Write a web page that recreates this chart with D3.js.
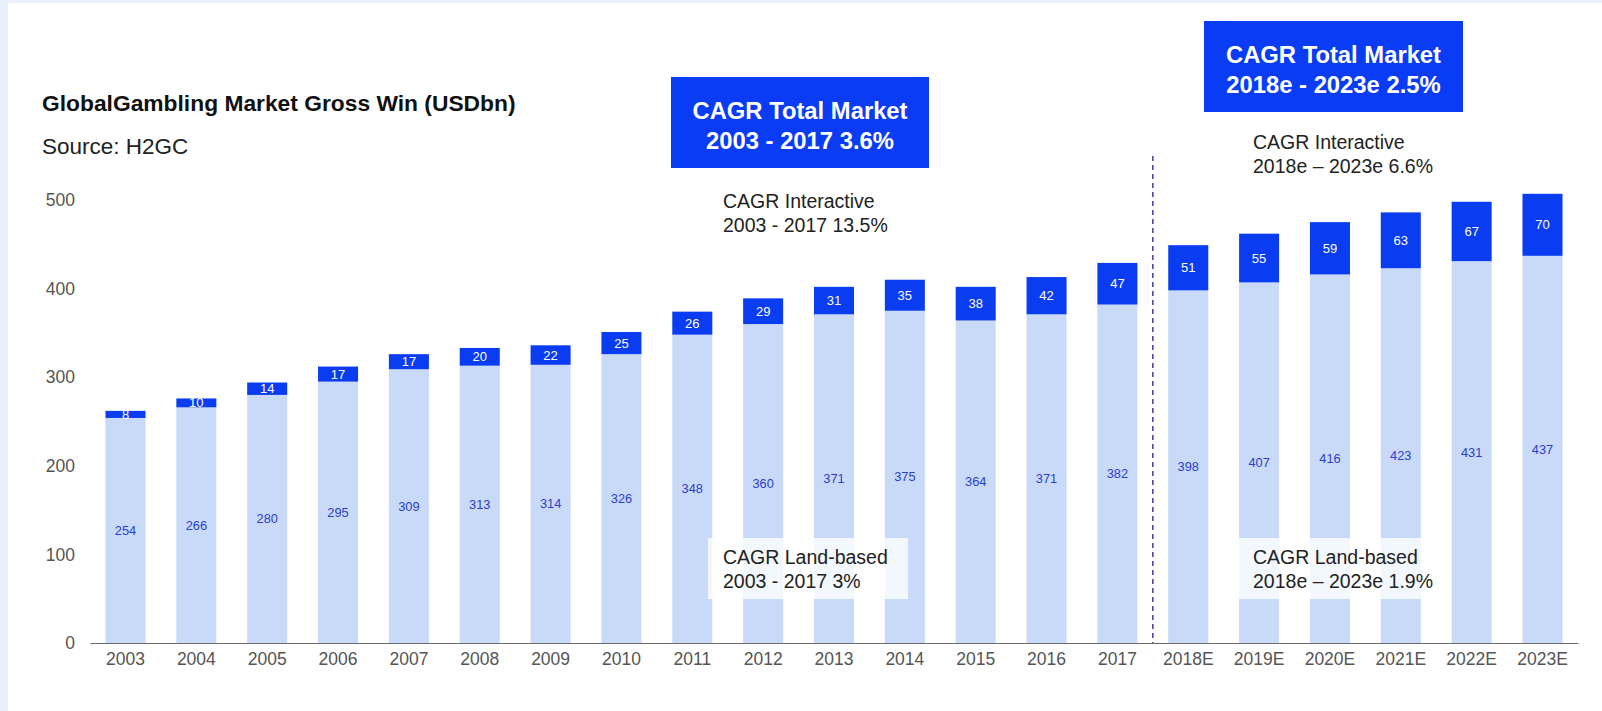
<!DOCTYPE html>
<html>
<head>
<meta charset="utf-8">
<script src="https://cdn.jsdelivr.net/npm/d3@7"></script>
<style>
  html, body { margin: 0; padding: 0; background: #e9effb; }
  svg { display: block; font-family: "Liberation Sans", Arial, sans-serif; }
</style>
</head>
<body>
<svg id="chart" width="1602" height="711"></svg>
<script>
// Global gambling market gross win, USD bn
const years = ["2003","2004","2005","2006","2007","2008","2009","2010","2011","2012",
               "2013","2014","2015","2016","2017","2018E","2019E","2020E","2021E","2022E","2023E"];
const landBased = [254,266,280,295,309,313,314,326,348,360,371,375,364,371,382,398,407,416,423,431,437];
const interactive = [8,10,14,17,17,20,22,25,26,29,31,35,38,42,47,51,55,59,63,67,70];
const yTicks = [0,100,200,300,400,500];

const title = "GlobalGambling Market Gross Win (USDbn)";
const source = "Source: H2GC";
const totalCagr = [
  ["CAGR Total Market", "2003 - 2017 3.6%"],
  ["CAGR Total Market", "2018e - 2023e 2.5%"]
];
const interactiveCagr = [
  ["CAGR Interactive", "2003 - 2017 13.5%"],
  ["CAGR Interactive", "2018e \u2013 2023e 6.6%"]
];
const landCagr = [
  ["CAGR Land-based", "2003 - 2017 3%"],
  ["CAGR Land-based", "2018e \u2013 2023e 1.9%"]
];

const colors = {
  land: "#c9d9f8",
  interactive: "#0a3cf2",
  box: "#0a3cf5",
  landText: "#2c40cf",
  axisText: "#555555",
  axisLine: "#6b6b6b",
  divider: "#4a4aa3"
};

const svg = d3.select("#chart");

// white panel
svg.append("rect").attr("x", 8).attr("y", 3).attr("width", 1594).attr("height", 708).attr("fill", "#ffffff");

const x = d3.scaleBand().domain(years).range([90, 1578]).paddingInner(0.435).paddingOuter(0.2185);
const y = d3.scaleLinear().domain([0, 500]).range([643, 200]);

const rows = years.map((yr, i) => ({ year: yr, land: landBased[i], inter: interactive[i] }));

// title and source
svg.append("text").attr("x", 42).attr("y", 111).attr("font-size", 22.8).attr("font-weight", "bold")
  .attr("fill", "#111").text(title);
svg.append("text").attr("x", 42).attr("y", 154).attr("font-size", 22.5)
  .attr("fill", "#222").text(source);

// y axis labels
const yAxis = svg.append("g").attr("transform", "translate(75,0)")
  .call(d3.axisLeft(y).tickValues(yTicks).tickSize(0).tickPadding(0));
yAxis.select(".domain").remove();
yAxis.selectAll("text").attr("font-size", 17.5).attr("fill", colors.axisText)
  .attr("font-family", "'Liberation Sans', Arial, sans-serif");

// bars
const bars = svg.append("g");
bars.selectAll("rect.land").data(rows).join("rect").attr("class", "land")
  .attr("x", d => x(d.year)).attr("width", x.bandwidth())
  .attr("y", d => y(d.land)).attr("height", d => y(0) - y(d.land))
  .attr("fill", colors.land);
bars.selectAll("rect.inter").data(rows).join("rect").attr("class", "inter")
  .attr("x", d => x(d.year)).attr("width", x.bandwidth())
  .attr("y", d => y(d.land + d.inter)).attr("height", d => y(d.land) - y(d.land + d.inter))
  .attr("fill", colors.interactive);

// value labels
bars.selectAll("text.landv").data(rows).join("text").attr("class", "landv")
  .attr("x", d => x(d.year) + x.bandwidth() / 2).attr("y", d => y(d.land / 2))
  .attr("dy", "0.35em").attr("text-anchor", "middle").attr("font-size", 12.8)
  .attr("fill", colors.landText).text(d => d.land);
bars.selectAll("text.interv").data(rows).join("text").attr("class", "interv")
  .attr("x", d => x(d.year) + x.bandwidth() / 2).attr("y", d => y(d.land + d.inter / 2))
  .attr("dy", "0.35em").attr("text-anchor", "middle").attr("font-size", 13)
  .attr("fill", "#ffffff").text(d => d.inter);

// x axis
const xAxis = svg.append("g").attr("transform", `translate(0,${y(0)})`)
  .call(d3.axisBottom(x).tickSize(0).tickPadding(10));
xAxis.select(".domain").attr("stroke", colors.axisLine).attr("stroke-width", 1.2);
xAxis.selectAll("text").attr("font-size", 17.5).attr("fill", colors.axisText)
  .attr("font-family", "'Liberation Sans', Arial, sans-serif");

// divider between actuals and estimates
const divX = (x("2017") + x.bandwidth() + x("2018E")) / 2;
svg.append("line").attr("x1", divX).attr("x2", divX).attr("y1", 156).attr("y2", y(0))
  .attr("stroke", colors.divider).attr("stroke-width", 1.6).attr("stroke-dasharray", "5,4");

// CAGR total-market boxes
const boxes = [
  { x: 671, y: 77, w: 258, h: 91 },
  { x: 1204, y: 21, w: 259, h: 91 }
];
totalCagr.forEach((lines, i) => {
  const b = boxes[i];
  svg.append("rect").attr("x", b.x).attr("y", b.y).attr("width", b.w).attr("height", b.h).attr("fill", colors.box);
  lines.forEach((t, j) => {
    svg.append("text").attr("x", b.x + b.w / 2).attr("y", b.y + 42 + j * 30)
      .attr("text-anchor", "middle").attr("font-size", 23.8).attr("font-weight", "bold")
      .attr("fill", "#ffffff").text(t);
  });
});

// interactive CAGR notes
const interPos = [{ x: 723, y: 208 }, { x: 1253, y: 149 }];
interactiveCagr.forEach((lines, i) => {
  lines.forEach((t, j) => {
    svg.append("text").attr("x", interPos[i].x).attr("y", interPos[i].y + j * 23.5)
      .attr("font-size", 19.5).attr("fill", "#222").text(t);
  });
});

// land-based CAGR notes on translucent panels
const landPos = [{ x: 723, y: 564, bx: 708, bw: 200 }, { x: 1253, y: 564, bx: 1239, bw: 208 }];
landCagr.forEach((lines, i) => {
  const p = landPos[i];
  svg.append("rect").attr("x", p.bx).attr("y", 538).attr("width", p.bw).attr("height", 61)
    .attr("fill", "#ffffff").attr("opacity", 0.78);
  lines.forEach((t, j) => {
    svg.append("text").attr("x", p.x).attr("y", p.y + j * 24.3)
      .attr("font-size", 19.5).attr("fill", "#222").text(t);
  });
});
</script>
</body>
</html>
